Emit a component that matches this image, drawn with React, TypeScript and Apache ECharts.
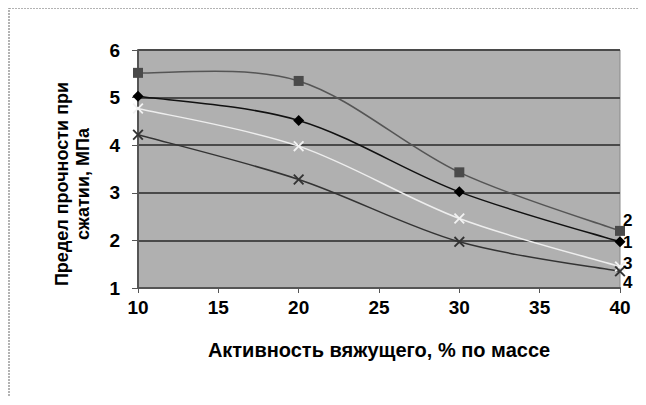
import React, { useEffect, useRef } from "react";
import * as echarts from "echarts";

// Активность вяжущего, % по массе
const xValues = [10, 20, 30, 40];
// Предел прочности при сжатии, МПа — four mixes
const series1 = [5.03, 4.52, 3.02, 1.97];
const series2 = [5.52, 5.35, 3.43, 2.2];
const series3 = [4.77, 3.98, 2.46, 1.45];
const series4 = [4.22, 3.28, 1.97, 1.35];
const seriesNames = ["1", "2", "3", "4"];
const yTicks = { min: 1, max: 6, step: 1 };
const xTicks = { min: 10, max: 40, step: 5 };

const FONT = "'Liberation Sans', Arial, sans-serif";
const CROSS =
  "path://M0,1.2L1.2,0L5,3.8L8.8,0L10,1.2L6.2,5L10,8.8L8.8,10L5,6.2L1.2,10L0,8.8L3.8,5Z";

function pairs(ys: number[]) {
  return xValues.map((x, i) => [x, ys[i]]);
}

// Catmull-Rom style smoothing (tangent = (next - prev) / 6), drawn in pixel space
function smoothPath(pts: number[][]) {
  const n = pts.length;
  let d = `M${pts[0][0]},${pts[0][1]}`;
  for (let i = 0; i < n - 1; i++) {
    const p0 = pts[Math.max(0, i - 1)];
    const p1 = pts[i];
    const p2 = pts[i + 1];
    const p3 = pts[Math.min(n - 1, i + 2)];
    const c1x = p1[0] + (p2[0] - p0[0]) / 6;
    const c1y = p1[1] + (p2[1] - p0[1]) / 6;
    const c2x = p2[0] - (p3[0] - p1[0]) / 6;
    const c2y = p2[1] - (p3[1] - p1[1]) / 6;
    d += ` C${c1x},${c1y} ${c2x},${c2y} ${p2[0]},${p2[1]}`;
  }
  return d;
}

export default function App() {
  const ref = useRef<HTMLDivElement>(null);

  useEffect(() => {
    if (!ref.current) return;
    const chart = echarts.init(ref.current, undefined, { renderer: "svg" });

    const endLabel = (text: string, dy: number) => ({
      show: true,
      formatter: text,
      color: "#000",
      fontFamily: FONT,
      fontWeight: "bold" as const,
      fontSize: 17,
      distance: 3,
      offset: [0, dy],
    });

    const curve = (ys: number[], stroke: string, z: number) => ({
      type: "custom",
      data: pairs(ys),
      encode: { x: 0, y: 1 },
      clip: true,
      silent: true,
      z,
      renderItem: (params: any, api: any) => {
        if (params.dataIndex !== 0) return null;
        const pts = xValues.map((x, i) => api.coord([x, ys[i]]));
        return {
          type: "path",
          shape: { pathData: smoothPath(pts) },
          style: { fill: "none", stroke, lineWidth: 1.5 },
        };
      },
    });

    const markers = (
      name: string,
      ys: number[],
      symbol: string,
      size: number,
      color: string,
      label: string,
      dy: number,
      z: number
    ) => ({
      name,
      type: "line",
      data: pairs(ys),
      symbol,
      symbolSize: size,
      itemStyle: { color },
      lineStyle: { opacity: 0 },
      endLabel: endLabel(label, dy),
      z,
    });

    chart.setOption({
      animation: false,
      backgroundColor: "#fff",
      grid: {
        left: 138,
        right: 26,
        top: 50,
        bottom: 117,
        show: true,
        backgroundColor: "#b0b0b0",
        borderColor: "#8a8a8a",
        borderWidth: 1,
      },
      graphic: [
        {
          type: "rect",
          shape: { x: 9, y: 8, width: 660, height: 395 },
          style: { fill: "none", stroke: "#9a9a9a", lineWidth: 1.5, lineDash: [2, 1] },
          silent: true,
          z: -1,
        },
        {
          type: "text",
          x: 72,
          y: 184,
          rotation: Math.PI / 2,
          style: {
            text: "Предел прочности при\nсжатии, МПа",
            fontFamily: FONT,
            fontWeight: "bold",
            fontSize: 18,
            lineHeight: 21,
            fill: "#000",
            align: "center",
            verticalAlign: "middle",
          },
        },
      ],
      xAxis: {
        type: "value",
        min: xTicks.min,
        max: xTicks.max,
        interval: xTicks.step,
        name: "Активность вяжущего, % по массе",
        nameLocation: "middle",
        nameGap: 52,
        nameTextStyle: {
          color: "#000",
          fontFamily: FONT,
          fontWeight: "bold",
          fontSize: 20,
        },
        axisLine: { show: true, lineStyle: { color: "#555", width: 2 } },
        axisTick: { show: true, length: 5, lineStyle: { color: "#555" } },
        axisLabel: {
          color: "#000",
          fontFamily: FONT,
          fontWeight: "bold",
          fontSize: 19,
          margin: 10,
        },
        splitLine: { show: false },
      },
      yAxis: {
        type: "value",
        min: yTicks.min,
        max: yTicks.max,
        interval: yTicks.step,
        axisLine: { show: true, lineStyle: { color: "#555", width: 2 } },
        axisTick: { show: true, length: 6, lineStyle: { color: "#555" } },
        axisLabel: {
          color: "#000",
          fontFamily: FONT,
          fontWeight: "bold",
          fontSize: 19,
          margin: 18,
        },
        splitLine: { show: true, lineStyle: { color: "#4a4a4a", width: 2 } },
      },
      series: [
        curve(series2, "#555555", 2),
        curve(series1, "#111111", 2),
        curve(series3, "#eeeeee", 2),
        curve(series4, "#333333", 2),
        markers(seriesNames[1], series2, "rect", 10, "#4a4a4a", "2", -10, 4),
        markers(seriesNames[0], series1, "diamond", 11, "#000", "1", 1, 5),
        markers(seriesNames[2], series3, CROSS, 11, "#f2f2f2", "3", -3, 4),
        markers(seriesNames[3], series4, CROSS, 11, "#333", "4", 11, 4),
      ],
    });

    return () => chart.dispose();
  }, []);

  return <div ref={ref} style={{ width: 646, height: 405, margin: -8 }} />;
}
